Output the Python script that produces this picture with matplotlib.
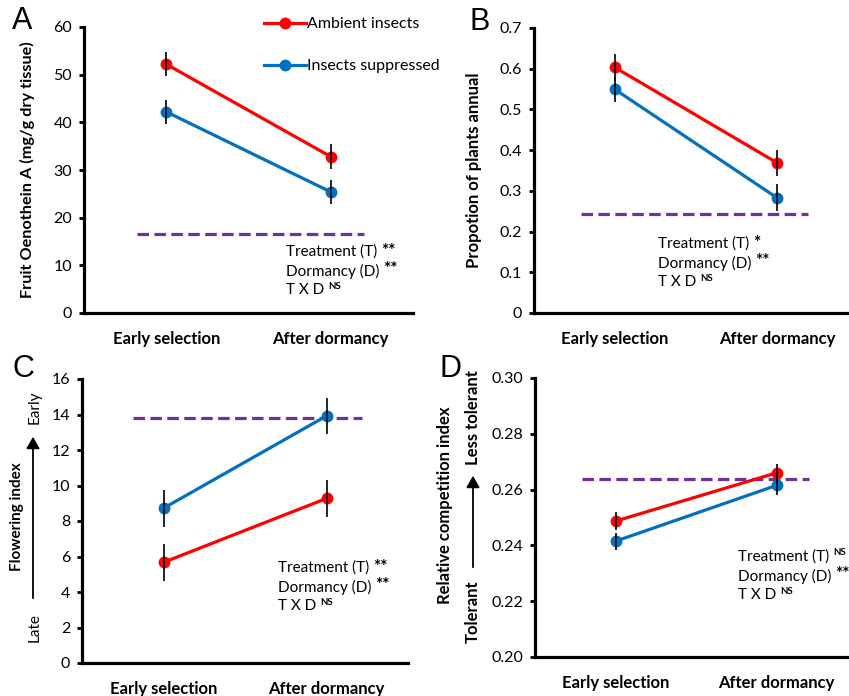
import matplotlib
matplotlib.use("Agg")
import matplotlib.pyplot as plt
from matplotlib.ticker import FuncFormatter, MultipleLocator

plt.rcParams['font.family'] = ['Lato', 'DejaVu Sans']

# ---------------- data ----------------
stages = ["Early selection", "After dormancy"]
series_names = ["Ambient insects", "Insects suppressed"]

# Panel A: Fruit Oenothein A
A_ambient = [52.2, 32.8]
A_ambient_err = [2.5, 2.55]
A_suppressed = [42.2, 25.4]
A_suppressed_err = [2.55, 2.6]
A_reference = 16.5
A_stats = [("Treatment (T)", "**"), ("Dormancy (D)", "**"), ("T X D", "NS")]

# Panel B: Proportion of plants annual
B_ambient = [0.603, 0.369]
B_ambient_err = [0.032, 0.032]
B_suppressed = [0.549, 0.283]
B_suppressed_err = [0.031, 0.033]
B_reference = 0.242
B_stats = [("Treatment (T)", "*"), ("Dormancy (D)", "**"), ("T X D", "NS")]

# Panel C: Flowering index
C_ambient = [5.67, 9.27]
C_ambient_err = [1.04, 1.05]
C_suppressed = [8.72, 13.92]
C_suppressed_err = [1.03, 1.03]
C_reference = 13.8
C_stats = [("Treatment (T)", "**"), ("Dormancy (D)", "**"), ("T X D", "NS")]

# Panel D: Relative competition index
D_ambient = [0.2487, 0.2660]
D_ambient_err = [0.0033, 0.0032]
D_suppressed = [0.2415, 0.2615]
D_suppressed_err = [0.0030, 0.0034]
D_reference = 0.2637
D_stats = [("Treatment (T)", "NS"), ("Dormancy (D)", "**"), ("T X D", "NS")]

RED = "#FF0000"
BLUE = "#0070C0"
PURPLE = "#7030A0"

W, H = 849, 696
fig = plt.figure(figsize=(W / 100, H / 100), dpi=100)


def px_axes(left, top, right, bottom):
    return fig.add_axes([left / W, 1 - bottom / H, (right - left) / W, (bottom - top) / H])


def style_axes(ax, ylim, step, fmt):
    for s in ("top", "right"):
        ax.spines[s].set_visible(False)
    for s in ("left", "bottom"):
        ax.spines[s].set_linewidth(2.3)
        ax.spines[s].set_color("black")
    ax.set_xlim(-0.5, 1.5)
    ax.set_ylim(*ylim)
    ax.yaxis.set_major_locator(MultipleLocator(step))
    ax.yaxis.set_major_formatter(FuncFormatter(fmt))
    ax.tick_params(axis="y", direction="out", length=3.5, width=2, labelsize=11.5, pad=5)
    ax.set_xticks([0, 1])
    ax.set_xticklabels(stages, fontweight="bold", fontsize=12)
    ax.tick_params(axis="x", length=0, pad=13)
    ax.patch.set_visible(False)


def draw_series(ax, amb, amb_err, sup, sup_err, ref, ref_x):
    x = [0, 1]
    l1, = ax.plot(x, amb, color=RED, lw=2.3, marker="o", ms=7.5, label=series_names[0], zorder=3)
    l2, = ax.plot(x, sup, color=BLUE, lw=2.3, marker="o", ms=7.5, label=series_names[1], zorder=3)
    ax.errorbar(x, amb, yerr=amb_err, fmt="none", ecolor="black", elinewidth=1.2, capsize=0, zorder=4)
    ax.errorbar(x, sup, yerr=sup_err, fmt="none", ecolor="black", elinewidth=1.2, capsize=0, zorder=4)
    ax.plot(ref_x, [ref, ref], color=PURPLE, lw=2.3, dashes=(3.6, 1.7), zorder=2)
    return l1, l2


def stats_text(ax, x, y, stats, dy):
    for i, (lab, sig) in enumerate(stats):
        t = ax.text(x, y - i * dy, lab, transform=fig.transFigure, fontsize=11,
                    ha="left", va="center")
        if sig == "NS":
            ax.annotate("NS", xy=(1, 1), xycoords=t, xytext=(3, 1), textcoords="offset points",
                        fontsize=7, fontweight="bold", ha="left", va="top")
        else:
            ax.annotate(sig, xy=(1, 1), xycoords=t, xytext=(3, 1.5), textcoords="offset points",
                        fontsize=12.5, fontweight="bold", ha="left", va="top")


dec1 = lambda v, p: ("%g" % round(v, 1)) if abs(v) > 1e-9 else "0"
intf = lambda v, p: "%d" % round(v)
dec2 = lambda v, p: "%.2f" % v

# ---------------- Panel A ----------------
axA = px_axes(84, 27, 413, 313)
style_axes(axA, (0, 60), 10, intf)
lA = draw_series(axA, A_ambient, A_ambient_err, A_suppressed, A_suppressed_err, A_reference, [-0.18, 1.2])
axA.set_ylabel("Fruit Oenothein A (mg/g dry tissue)", fontweight="bold", fontsize=11.7)
axA.yaxis.set_label_coords(-0.15, 0.5)
stats_text(axA, 286 / W, 1 - 252 / H, A_stats, 19 / H)
leg = axA.legend(handles=list(lA), loc="upper left", bbox_to_anchor=(264 / W, 1 - 17 / H),
                 bbox_transform=fig.transFigure, frameon=False, fontsize=11.5,
                 handlelength=2.6, handletextpad=0.1, labelspacing=1.75, borderpad=0,
                 borderaxespad=0)

# ---------------- Panel B ----------------
axB = px_axes(534, 28, 858, 313)
style_axes(axB, (0, 0.7), 0.1, dec1)
draw_series(axB, B_ambient, B_ambient_err, B_suppressed, B_suppressed_err, B_reference, [-0.21, 1.19])
axB.set_ylabel("Propotion of plants annual", fontweight="bold", fontsize=12)
axB.yaxis.set_label_coords(-0.16, 0.5)
stats_text(axB, 658 / W, 1 - 244 / H, B_stats, 19 / H)

# ---------------- Panel C ----------------
axC = px_axes(82, 379, 408, 663)
style_axes(axC, (0, 16), 2, intf)
draw_series(axC, C_ambient, C_ambient_err, C_suppressed, C_suppressed_err, C_reference, [-0.19, 1.22])
fig.text(17 / W, 1 - 517 / H, "Flowering index", rotation=90, fontweight="bold", fontsize=11,
         ha="center", va="center")
fig.text(35 / W, 1 - 407 / H, "Early", rotation=90, fontsize=11, ha="center", va="center")
fig.text(35 / W, 1 - 628 / H, "Late", rotation=90, fontsize=11, ha="center", va="center")
fig.add_artist(matplotlib.patches.FancyArrowPatch(
    (33 / W, 1 - 601 / H), (33 / W, 1 - 434 / H), transform=fig.transFigure,
    arrowstyle="-|>,head_length=7,head_width=4", lw=1.3, color="black", mutation_scale=1))
stats_text(axC, 278 / W, 1 - 568 / H, C_stats, 19 / H)

# ---------------- Panel D ----------------
axD = px_axes(535, 378, 857, 657)
style_axes(axD, (0.20, 0.30), 0.02, dec2)
draw_series(axD, D_ambient, D_ambient_err, D_suppressed, D_suppressed_err, D_reference, [-0.21, 1.2])
fig.text(445 / W, 1 - 505 / H, "Relative competition index", rotation=90, fontweight="bold",
         fontsize=12, ha="center", va="center")
fig.text(473 / W, 1 - 418 / H, "Less tolerant", rotation=90, fontweight="bold", fontsize=12,
         ha="center", va="center")
fig.text(473 / W, 1 - 612 / H, "Tolerant", rotation=90, fontweight="bold", fontsize=12,
         ha="center", va="center")
fig.add_artist(matplotlib.patches.FancyArrowPatch(
    (473 / W, 1 - 570 / H), (473 / W, 1 - 473 / H), transform=fig.transFigure,
    arrowstyle="-|>,head_length=7,head_width=4", lw=1.3, color="black", mutation_scale=1))
stats_text(axD, 738 / W, 1 - 557 / H, D_stats, 19 / H)

# ---------------- Panel letters ----------------
for letter, (x, y) in zip("ABCD", [(22, 21), (480, 22), (23, 369), (450, 369)]):
    fig.text(x / W, 1 - y / H, letter, fontsize=22, family="Liberation Sans",
             ha="center", va="center")

fig.savefig("out.png", dpi=100)
